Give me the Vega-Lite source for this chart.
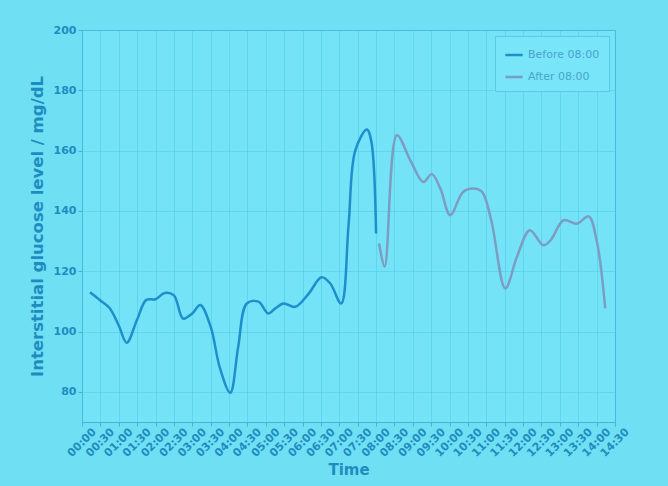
{
  "$schema": "https://vega.github.io/schema/vega-lite/v6.json",
  "autosize": {"type": "none"},
  "padding": {"left": 82, "top": 30, "right": 53, "bottom": 64},
  "width": 533,
  "height": 392,
  "background": "#6fdff4",
  "config": {
    "view": {"fill": "#74e3f7", "stroke": "#3fb6d6", "strokeWidth": 1},
    "font": "DejaVu Sans",
    "axis": {
      "labelColor": "#1f8cc0",
      "titleColor": "#1f8cc0",
      "domain": false,
      "tickColor": "#3fb6d6",
      "gridColor": "#4cc4e2",
      "gridOpacity": 0.45,
      "labelFontSize": 11,
      "labelFontWeight": "bold",
      "titleFontSize": 15,
      "titleFontWeight": "bold"
    }
  },
  "data": {
    "values": [
      {"time": "2024-01-01T00:13:00", "glucose": 113, "series": "Before 08:00"},
      {"time": "2024-01-01T00:30:00", "glucose": 110.3, "series": "Before 08:00"},
      {"time": "2024-01-01T00:45:00", "glucose": 107.8, "series": "Before 08:00"},
      {"time": "2024-01-01T01:00:00", "glucose": 102, "series": "Before 08:00"},
      {"time": "2024-01-01T01:13:00", "glucose": 96.3, "series": "Before 08:00"},
      {"time": "2024-01-01T01:30:00", "glucose": 104, "series": "Before 08:00"},
      {"time": "2024-01-01T01:45:00", "glucose": 110.5, "series": "Before 08:00"},
      {"time": "2024-01-01T02:00:00", "glucose": 110.7, "series": "Before 08:00"},
      {"time": "2024-01-01T02:15:00", "glucose": 112.8, "series": "Before 08:00"},
      {"time": "2024-01-01T02:30:00", "glucose": 112, "series": "Before 08:00"},
      {"time": "2024-01-01T02:45:00", "glucose": 104.3, "series": "Before 08:00"},
      {"time": "2024-01-01T03:00:00", "glucose": 106, "series": "Before 08:00"},
      {"time": "2024-01-01T03:13:00", "glucose": 108.8, "series": "Before 08:00"},
      {"time": "2024-01-01T03:30:00", "glucose": 101.6, "series": "Before 08:00"},
      {"time": "2024-01-01T03:45:00", "glucose": 88, "series": "Before 08:00"},
      {"time": "2024-01-01T04:02:00", "glucose": 79.7, "series": "Before 08:00"},
      {"time": "2024-01-01T04:15:00", "glucose": 95, "series": "Before 08:00"},
      {"time": "2024-01-01T04:29:00", "glucose": 109.3, "series": "Before 08:00"},
      {"time": "2024-01-01T04:48:00", "glucose": 109.9, "series": "Before 08:00"},
      {"time": "2024-01-01T05:04:00", "glucose": 106, "series": "Before 08:00"},
      {"time": "2024-01-01T05:15:00", "glucose": 107.6, "series": "Before 08:00"},
      {"time": "2024-01-01T05:29:00", "glucose": 109.3, "series": "Before 08:00"},
      {"time": "2024-01-01T05:48:00", "glucose": 108.2, "series": "Before 08:00"},
      {"time": "2024-01-01T06:10:00", "glucose": 112.6, "series": "Before 08:00"},
      {"time": "2024-01-01T06:31:00", "glucose": 118, "series": "Before 08:00"},
      {"time": "2024-01-01T06:45:00", "glucose": 116, "series": "Before 08:00"},
      {"time": "2024-01-01T07:03:00", "glucose": 109.3, "series": "Before 08:00"},
      {"time": "2024-01-01T07:15:00", "glucose": 135, "series": "Before 08:00"},
      {"time": "2024-01-01T07:26:00", "glucose": 160, "series": "Before 08:00"},
      {"time": "2024-01-01T07:45:00", "glucose": 167, "series": "Before 08:00"},
      {"time": "2024-01-01T07:52:00", "glucose": 163.4, "series": "Before 08:00"},
      {"time": "2024-01-01T08:00:00", "glucose": 132.5, "series": "Before 08:00"},
      {"time": "2024-01-01T08:05:00", "glucose": 129.2, "series": "After 08:00"},
      {"time": "2024-01-01T08:14:00", "glucose": 121.5, "series": "After 08:00"},
      {"time": "2024-01-01T08:34:00", "glucose": 165.1, "series": "After 08:00"},
      {"time": "2024-01-01T08:56:00", "glucose": 156.8, "series": "After 08:00"},
      {"time": "2024-01-01T09:17:00", "glucose": 149.6, "series": "After 08:00"},
      {"time": "2024-01-01T09:31:00", "glucose": 152.2, "series": "After 08:00"},
      {"time": "2024-01-01T09:45:00", "glucose": 147.4, "series": "After 08:00"},
      {"time": "2024-01-01T10:01:00", "glucose": 138.6, "series": "After 08:00"},
      {"time": "2024-01-01T10:22:00", "glucose": 146.3, "series": "After 08:00"},
      {"time": "2024-01-01T10:39:00", "glucose": 147.4, "series": "After 08:00"},
      {"time": "2024-01-01T10:53:00", "glucose": 146.3, "series": "After 08:00"},
      {"time": "2024-01-01T11:08:00", "glucose": 136.9, "series": "After 08:00"},
      {"time": "2024-01-01T11:31:00", "glucose": 114.3, "series": "After 08:00"},
      {"time": "2024-01-01T11:50:00", "glucose": 124.8, "series": "After 08:00"},
      {"time": "2024-01-01T12:11:00", "glucose": 133.6, "series": "After 08:00"},
      {"time": "2024-01-01T12:33:00", "glucose": 128.6, "series": "After 08:00"},
      {"time": "2024-01-01T12:45:00", "glucose": 130.3, "series": "After 08:00"},
      {"time": "2024-01-01T13:06:00", "glucose": 136.9, "series": "After 08:00"},
      {"time": "2024-01-01T13:28:00", "glucose": 135.8, "series": "After 08:00"},
      {"time": "2024-01-01T13:47:00", "glucose": 138.2, "series": "After 08:00"},
      {"time": "2024-01-01T14:00:00", "glucose": 130.3, "series": "After 08:00"},
      {"time": "2024-01-01T14:14:00", "glucose": 107.7, "series": "After 08:00"}
    ]
  },
  "mark": {"type": "line", "interpolate": "catmull-rom", "strokeWidth": 2.5},
  "encoding": {
    "x": {
      "field": "time",
      "type": "temporal",
      "scale": {
        "domain": ["2024-01-01T00:00:00", "2024-01-01T14:30:00"]
      },
      "axis": {
        "title": "Time",
        "format": "%H:%M",
        "values": [
          "2024-01-01T00:00:00", "2024-01-01T00:30:00", "2024-01-01T01:00:00", "2024-01-01T01:30:00",
          "2024-01-01T02:00:00", "2024-01-01T02:30:00", "2024-01-01T03:00:00", "2024-01-01T03:30:00",
          "2024-01-01T04:00:00", "2024-01-01T04:30:00", "2024-01-01T05:00:00", "2024-01-01T05:30:00",
          "2024-01-01T06:00:00", "2024-01-01T06:30:00", "2024-01-01T07:00:00", "2024-01-01T07:30:00",
          "2024-01-01T08:00:00", "2024-01-01T08:30:00", "2024-01-01T09:00:00", "2024-01-01T09:30:00",
          "2024-01-01T10:00:00", "2024-01-01T10:30:00", "2024-01-01T11:00:00", "2024-01-01T11:30:00",
          "2024-01-01T12:00:00", "2024-01-01T12:30:00", "2024-01-01T13:00:00", "2024-01-01T13:30:00",
          "2024-01-01T14:00:00", "2024-01-01T14:30:00"
        ],
        "labelAngle": -45,
        "labelAlign": "right",
        "labelBaseline": "middle",
        "labelOverlap": false,
        "labelOffset": 12,
        "labelPadding": 4,
        "titlePadding": 4,
        "tickSize": 4
      }
    },
    "y": {
      "field": "glucose",
      "type": "quantitative",
      "scale": {"domain": [70, 200], "nice": false, "zero": false},
      "axis": {
        "title": "Interstitial glucose level / mg/dL",
        "titleFontSize": 16.5,
        "values": [80, 100, 120, 140, 160, 180, 200],
        "tickSize": 4,
        "titlePadding": 8
      }
    },
    "color": {
      "field": "series",
      "type": "nominal",
      "scale": {"domain": ["Before 08:00", "After 08:00"], "range": ["#1d8fcc", "#7b9dc2"]},
      "legend": {
        "title": null,
        "orient": "top-right",
        "symbolType": "stroke",
        "symbolStrokeWidth": 2.5,
        "symbolSize": 300,
        "labelColor": "#4aa3cf",
        "labelFontSize": 11,
        "fillColor": "#78e5f8",
        "strokeColor": "#5cc8e4",
        "padding": 9,
        "rowPadding": 7,
        "offset": 6
      }
    }
  }
}
